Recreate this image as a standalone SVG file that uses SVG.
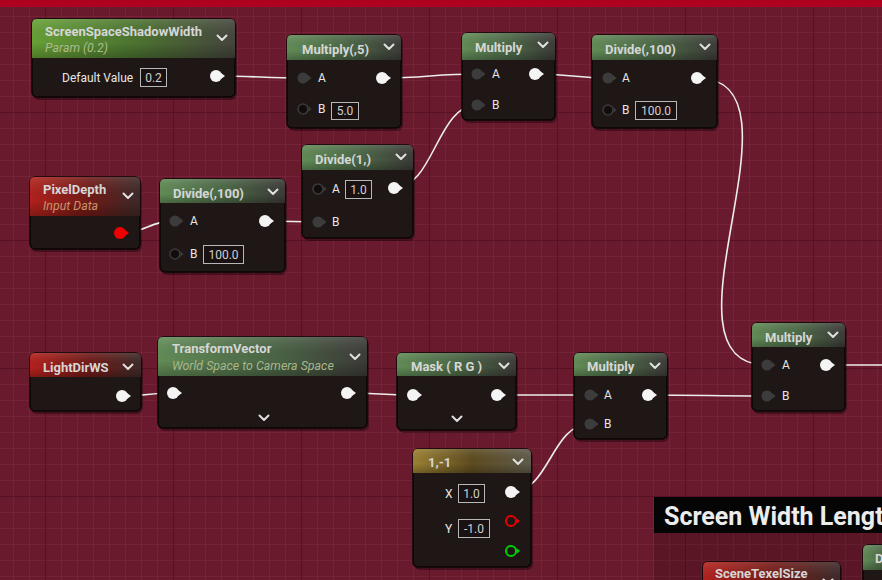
<svg xmlns="http://www.w3.org/2000/svg" width="882" height="580" viewBox="0 0 882 580">
<defs>
<style>
.body{fill:#1f1716;stroke:#0a0606;stroke-width:1.5}
.shadow{fill:#000;opacity:0.35}
.title{font-family:Roboto,"Liberation Sans",sans-serif;font-weight:bold;font-size:13px;fill:#d6d6d6}
.sub{font-family:Roboto,"Liberation Sans",sans-serif;font-style:italic;font-size:12.4px}
.lbl{font-family:Roboto,"Liberation Sans",sans-serif;font-size:12px;fill:#e6e6e6}
.val{font-family:Roboto,"Liberation Sans",sans-serif;font-size:12px;fill:#d0d0d0;text-anchor:middle}
.vbox{fill:#1a1212;stroke:#b8b8b8;stroke-width:1}
.chev{fill:none;stroke:#e0e0e0;stroke-width:2;stroke-linecap:round;stroke-linejoin:round}
.wire{fill:none;stroke:#ececec;stroke-width:1.6}
</style>
<pattern id="minor" patternUnits="userSpaceOnUse" x="13" y="0" width="16" height="16">
<path d="M0,0 V16 M0,0 H16" stroke="#7b2b3e" stroke-width="1.2" fill="none"/>
</pattern>
<pattern id="major" patternUnits="userSpaceOnUse" x="45" y="112" width="128" height="128">
<path d="M0,0 V128 M0,0 H128" stroke="#581124" stroke-width="2" fill="none"/>
</pattern>
<linearGradient id="gGreen" x1="0" y1="0" x2="1" y2="0">
<stop offset="0" stop-color="#628c57"/><stop offset="0.55" stop-color="#4a6545"/><stop offset="1" stop-color="#3d3b38"/>
</linearGradient>
<linearGradient id="gParam" x1="0" y1="0" x2="1" y2="0">
<stop offset="0" stop-color="#67a136"/><stop offset="0.5" stop-color="#4c7430"/><stop offset="1" stop-color="#45453d"/>
</linearGradient>
<linearGradient id="gRed" x1="0" y1="0" x2="1" y2="0">
<stop offset="0" stop-color="#b3211c"/><stop offset="0.55" stop-color="#6e1a17"/><stop offset="1" stop-color="#3c2a28"/>
</linearGradient>
<linearGradient id="gGold" x1="0" y1="0" x2="1" y2="0">
<stop offset="0" stop-color="#9c8132"/><stop offset="0.5" stop-color="#5e4c1f"/><stop offset="1" stop-color="#5e5a4c"/>
</linearGradient>
<linearGradient id="gShade" x1="0" y1="0" x2="0" y2="1">
<stop offset="0" stop-color="#fff" stop-opacity="0.12"/><stop offset="0.6" stop-color="#000" stop-opacity="0"/><stop offset="1" stop-color="#000" stop-opacity="0.25"/>
</linearGradient>
<g id="pOut"><circle r="6" fill="#f4f4f4"/><path d="M5,-3 L9,0 L5,3 Z" fill="#f4f4f4"/></g>
<g id="pIn"><circle r="5.5" fill="#3c3c3c"/><path d="M5,-3 L8.5,0 L5,3 Z" fill="#3c3c3c"/></g>
<g id="pOpen"><circle r="5" fill="#120c0c" stroke="#3a3a3a" stroke-width="1.6"/><path d="M5.5,-3 L8.5,0 L5.5,3 Z" fill="#3a3a3a"/></g>
<g id="pRed"><circle r="6" fill="#f00000"/><path d="M5,-3 L9,0 L5,3 Z" fill="#f00000"/></g>
<g id="pRedO"><circle r="5" fill="none" stroke="#e80000" stroke-width="2"/><path d="M5.5,-3 L9,0 L5.5,3 Z" fill="#e80000"/></g>
<g id="pGrnO"><circle r="5" fill="none" stroke="#00d000" stroke-width="2"/><path d="M5.5,-3 L9,0 L5.5,3 Z" fill="#00d000"/></g>
<path id="chev" class="chev" d="M-4.5,-2.5 L0,2 L4.5,-2.5"/>
</defs>

<rect width="882" height="580" fill="#6a1a2d"/>
<rect width="882" height="580" fill="url(#minor)"/>
<rect width="882" height="580" fill="url(#major)"/>
<rect x="0" y="0" width="882" height="7" fill="#b0001f"/>
<rect x="654" y="533" width="228" height="47" fill="#000" opacity="0.14"/>

<g id="connectors">
<path class="wire" d="M216,76 C255,76 265,78 303,78"/>
<path class="wire" d="M382,78 C425,78 435,74 477,74"/>
<path class="wire" d="M535,74 C570,74 575,78 608,78"/>
<path class="wire" d="M697,78 C817,78 647,365 767,365"/>
<path class="wire" d="M120,233 C145,233 150,221 175,221"/>
<path class="wire" d="M265,221 C290,221 295,222 318,222"/>
<path class="wire" d="M394,188 C434,188 437,105 477,105"/>
<path class="wire" d="M122,396 C150,396 145,393 173,393"/>
<path class="wire" d="M347,393 C380,393 380,395 413,395"/>
<path class="wire" d="M497,395 C540,395 545,395 590,395"/>
<path class="wire" d="M648,395 C700,395 715,396 767,396"/>
<path class="wire" d="M826,365 L882,365"/>
<path class="wire" d="M511,492 C550,492 551,424 590,424"/>
</g>

<g id="n-sssw">
<rect class="shadow" x="33" y="21" width="204" height="79" rx="6"/>
<rect class="body" x="32" y="19" width="203" height="78" rx="5"/>
<path d="M32,58 V24 Q32,19 37,19 H230 Q235,19 235,24 V58 Z" fill="url(#gParam)"/>
<path d="M32,58 V24 Q32,19 37,19 H230 Q235,19 235,24 V58 Z" fill="url(#gShade)"/>
<text class="title" x="45" y="36">ScreenSpaceShadowWidth</text>
<text class="sub" x="45" y="52" fill="#a9bd8c">Param (0.2)</text>
<use href="#chev" x="222" y="38"/>
<text class="lbl" x="62" y="82">Default Value</text>
<rect class="vbox" x="140.5" y="68.5" width="26" height="18"/>
<text class="val" x="153.5" y="82">0.2</text>
<use href="#pOut" x="216" y="76"/>
</g>

<g id="n-mul5">
<rect class="shadow" x="288" y="37" width="115" height="94" rx="6"/>
<rect class="body" x="287" y="35" width="114" height="93" rx="5"/>
<path d="M287,60 V40 Q287,35 292,35 H396 Q401,35 401,40 V60 Z" fill="url(#gGreen)"/>
<path d="M287,60 V40 Q287,35 292,35 H396 Q401,35 401,40 V60 Z" fill="url(#gShade)"/>
<text class="title" x="302" y="54">Multiply(,5)</text>
<use href="#chev" x="389" y="47"/>
<use href="#pIn" x="303" y="78"/>
<text class="lbl" x="318" y="82">A</text>
<use href="#pOut" x="382" y="78"/>
<use href="#pOpen" x="303" y="109"/>
<text class="lbl" x="318" y="113">B</text>
<rect class="vbox" x="331.5" y="102.5" width="27" height="17"/>
<text class="val" x="345" y="115">5.0</text>
</g>

<g id="n-mul-top">
<rect class="shadow" x="463" y="35" width="94" height="88" rx="6"/>
<rect class="body" x="462" y="33" width="93" height="87" rx="5"/>
<path d="M462,60 V38 Q462,33 467,33 H550 Q555,33 555,38 V60 Z" fill="url(#gGreen)"/>
<path d="M462,60 V38 Q462,33 467,33 H550 Q555,33 555,38 V60 Z" fill="url(#gShade)"/>
<text class="title" x="475" y="52">Multiply</text>
<use href="#chev" x="543" y="45"/>
<use href="#pIn" x="477" y="74"/>
<text class="lbl" x="492" y="78">A</text>
<use href="#pOut" x="535" y="74"/>
<use href="#pIn" x="477" y="105"/>
<text class="lbl" x="492" y="109">B</text>
</g>

<g id="n-div100-top">
<rect class="shadow" x="593" y="37" width="126" height="94" rx="6"/>
<rect class="body" x="592" y="35" width="125" height="93" rx="5"/>
<path d="M592,60 V40 Q592,35 597,35 H712 Q717,35 717,40 V60 Z" fill="url(#gGreen)"/>
<path d="M592,60 V40 Q592,35 597,35 H712 Q717,35 717,40 V60 Z" fill="url(#gShade)"/>
<text class="title" x="605" y="54">Divide(,100)</text>
<use href="#chev" x="705" y="47"/>
<use href="#pIn" x="608" y="78"/>
<text class="lbl" x="622" y="82">A</text>
<use href="#pOut" x="697" y="78"/>
<use href="#pOpen" x="608" y="110"/>
<text class="lbl" x="622" y="114">B</text>
<rect class="vbox" x="635.5" y="101.5" width="41" height="18"/>
<text class="val" x="656" y="115">100.0</text>
</g>

<g id="n-pixeldepth">
<rect class="shadow" x="31" y="179" width="111" height="73" rx="6"/>
<rect class="body" x="30" y="177" width="110" height="72" rx="5"/>
<path d="M30,216 V182 Q30,177 35,177 H135 Q140,177 140,182 V216 Z" fill="url(#gRed)"/>
<path d="M30,216 V182 Q30,177 35,177 H135 Q140,177 140,182 V216 Z" fill="url(#gShade)"/>
<text class="title" x="43" y="194">PixelDepth</text>
<text class="sub" x="43" y="210" fill="#c9946c">Input Data</text>
<use href="#chev" x="128" y="196"/>
<use href="#pRed" x="120" y="233"/>
</g>

<g id="n-div100-mid">
<rect class="shadow" x="161" y="181" width="126" height="94" rx="6"/>
<rect class="body" x="160" y="179" width="125" height="93" rx="5"/>
<path d="M160,203 V184 Q160,179 165,179 H280 Q285,179 285,184 V203 Z" fill="url(#gGreen)"/>
<path d="M160,203 V184 Q160,179 165,179 H280 Q285,179 285,184 V203 Z" fill="url(#gShade)"/>
<text class="title" x="173" y="198">Divide(,100)</text>
<use href="#chev" x="273" y="192"/>
<use href="#pIn" x="175" y="221"/>
<text class="lbl" x="190" y="225">A</text>
<use href="#pOut" x="265" y="221"/>
<use href="#pOpen" x="175" y="254"/>
<text class="lbl" x="190" y="258">B</text>
<rect class="vbox" x="203.5" y="245.5" width="40" height="18"/>
<text class="val" x="223.5" y="259">100.0</text>
</g>

<g id="n-div1">
<rect class="shadow" x="303" y="147" width="112" height="94" rx="6"/>
<rect class="body" x="302" y="145" width="111" height="93" rx="5"/>
<path d="M302,170 V150 Q302,145 307,145 H408 Q413,145 413,150 V170 Z" fill="url(#gGreen)"/>
<path d="M302,170 V150 Q302,145 307,145 H408 Q413,145 413,150 V170 Z" fill="url(#gShade)"/>
<text class="title" x="315" y="164">Divide(1,)</text>
<use href="#chev" x="401" y="157"/>
<use href="#pOpen" x="318" y="189"/>
<text class="lbl" x="332" y="193">A</text>
<rect class="vbox" x="345.5" y="180.5" width="26" height="18"/>
<text class="val" x="358.5" y="194">1.0</text>
<use href="#pOut" x="394" y="188"/>
<use href="#pIn" x="318" y="222"/>
<text class="lbl" x="332" y="226">B</text>
</g>

<g id="n-lightdir">
<rect class="shadow" x="31" y="355" width="112" height="59" rx="6"/>
<rect class="body" x="30" y="353" width="111" height="58" rx="5"/>
<path d="M30,377 V358 Q30,353 35,353 H136 Q141,353 141,358 V377 Z" fill="url(#gRed)"/>
<path d="M30,377 V358 Q30,353 35,353 H136 Q141,353 141,358 V377 Z" fill="url(#gShade)"/>
<text class="title" x="43" y="372">LightDirWS</text>
<use href="#chev" x="128" y="367"/>
<use href="#pOut" x="122" y="396"/>
</g>

<g id="n-transform">
<rect class="shadow" x="159" y="339" width="210" height="92" rx="6"/>
<rect class="body" x="158" y="337" width="209" height="91" rx="5"/>
<path d="M158,376 V342 Q158,337 163,337 H362 Q367,337 367,342 V376 Z" fill="url(#gGreen)"/>
<path d="M158,376 V342 Q158,337 163,337 H362 Q367,337 367,342 V376 Z" fill="url(#gShade)"/>
<text class="title" x="172" y="353">TransformVector</text>
<text class="sub" x="172" y="370" fill="#a6b78c">World Space to Camera Space</text>
<use href="#chev" x="355" y="357"/>
<use href="#pOut" x="173" y="393"/>
<use href="#pOut" x="347" y="393"/>
<use href="#chev" x="264" y="418"/>
</g>

<g id="n-mask">
<rect class="shadow" x="398" y="355" width="120" height="78" rx="6"/>
<rect class="body" x="397" y="353" width="119" height="77" rx="5"/>
<path d="M397,376 V358 Q397,353 402,353 H511 Q516,353 516,358 V376 Z" fill="url(#gGreen)"/>
<path d="M397,376 V358 Q397,353 402,353 H511 Q516,353 516,358 V376 Z" fill="url(#gShade)"/>
<text class="title" x="411" y="371">Mask ( R G )</text>
<use href="#chev" x="504" y="366"/>
<use href="#pOut" x="413" y="395"/>
<use href="#pOut" x="497" y="395"/>
<use href="#chev" x="457" y="419"/>
</g>

<g id="n-mul-mid">
<rect class="shadow" x="575" y="355" width="94" height="87" rx="6"/>
<rect class="body" x="574" y="353" width="93" height="86" rx="5"/>
<path d="M574,376 V358 Q574,353 579,353 H662 Q667,353 667,358 V376 Z" fill="url(#gGreen)"/>
<path d="M574,376 V358 Q574,353 579,353 H662 Q667,353 667,358 V376 Z" fill="url(#gShade)"/>
<text class="title" x="587" y="371">Multiply</text>
<use href="#chev" x="655" y="366"/>
<use href="#pIn" x="590" y="395"/>
<text class="lbl" x="604" y="399">A</text>
<use href="#pOut" x="648" y="395"/>
<use href="#pIn" x="590" y="424"/>
<text class="lbl" x="604" y="428">B</text>
</g>

<g id="n-const">
<rect class="shadow" x="414" y="451" width="119" height="119" rx="6"/>
<rect class="body" x="413" y="449" width="118" height="118" rx="5"/>
<path d="M413,473 V454 Q413,449 418,449 H526 Q531,449 531,454 V473 Z" fill="url(#gGold)"/>
<path d="M413,473 V454 Q413,449 418,449 H526 Q531,449 531,454 V473 Z" fill="url(#gShade)"/>
<text class="title" x="428" y="467">1,-1</text>
<use href="#chev" x="518" y="462"/>
<text class="lbl" x="445" y="498">X</text>
<rect class="vbox" x="458.5" y="484.5" width="26" height="18"/>
<text class="val" x="471.5" y="498">1.0</text>
<use href="#pOut" x="511" y="492"/>
<text class="lbl" x="445" y="533">Y</text>
<rect class="vbox" x="458.5" y="519.5" width="31" height="18"/>
<text class="val" x="474" y="533">-1.0</text>
<use href="#pRedO" x="511" y="521"/>
<use href="#pGrnO" x="511" y="551"/>
</g>

<g id="n-mul-right">
<rect class="shadow" x="753" y="325" width="94" height="89" rx="6"/>
<rect class="body" x="752" y="323" width="93" height="88" rx="5"/>
<path d="M752,347 V328 Q752,323 757,323 H840 Q845,323 845,328 V347 Z" fill="url(#gGreen)"/>
<path d="M752,347 V328 Q752,323 757,323 H840 Q845,323 845,328 V347 Z" fill="url(#gShade)"/>
<text class="title" x="765" y="342">Multiply</text>
<use href="#chev" x="833" y="335"/>
<use href="#pIn" x="767" y="365"/>
<text class="lbl" x="782" y="369">A</text>
<use href="#pOut" x="826" y="365"/>
<use href="#pIn" x="767" y="396"/>
<text class="lbl" x="782" y="400">B</text>
</g>

<g id="comment-screen-width">
<rect x="654" y="497" width="228" height="36" fill="#050505"/>
<text x="664" y="525" font-family="Roboto,'Liberation Sans',sans-serif" font-weight="bold" font-size="25" fill="#ececec">Screen Width Length</text>
</g>

<g id="n-scenetexel">
<rect class="shadow" x="704" y="564" width="138" height="30" rx="6"/>
<rect class="body" x="703" y="562" width="137" height="40" rx="5"/>
<path d="M703,600 V567 Q703,562 708,562 H835 Q840,562 840,567 V600 Z" fill="url(#gRed)"/>
<path d="M703,600 V567 Q703,562 708,562 H835 Q840,562 840,567 V600 Z" fill="url(#gShade)"/>
<text class="title" x="715" y="578">SceneTexelSize</text>
<use href="#chev" x="828" y="582"/>
</g>

<g id="n-d">
<rect class="shadow" x="864" y="547" width="40" height="40" rx="6"/>
<rect class="body" x="863" y="545" width="40" height="40" rx="5"/>
<path d="M863,570 V550 Q863,545 868,545 H898 Q903,545 903,550 V570 Z" fill="url(#gGreen)"/>
<path d="M863,570 V550 Q863,545 868,545 H898 Q903,545 903,550 V570 Z" fill="url(#gShade)"/>
<text class="title" x="875" y="563">D</text>
</g>
</svg>
